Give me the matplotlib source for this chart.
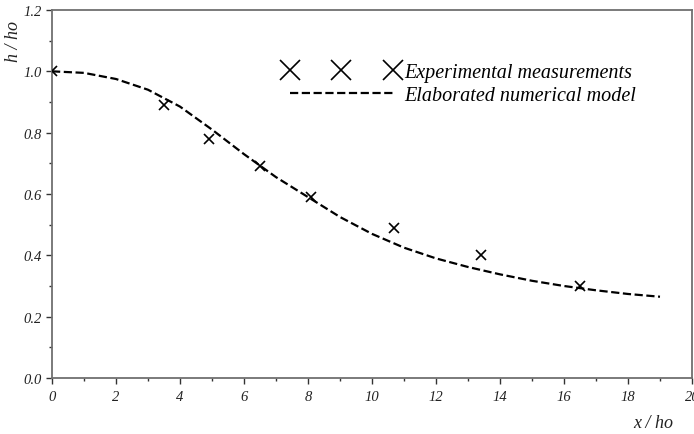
import matplotlib
matplotlib.use("Agg")
import matplotlib.pyplot as plt
from matplotlib.ticker import MultipleLocator, FormatStrFormatter

# Data
exp_x = [0.0, 3.5, 4.9, 6.5, 8.1, 10.7, 13.4, 16.5]
exp_y = [1.0, 0.89, 0.78, 0.69, 0.59, 0.49, 0.40, 0.30]

model_x = [0, 1, 2, 3, 4, 5, 6, 7, 8, 9, 10, 11, 12, 13, 14, 15, 16, 17, 18, 19]
model_y = [1.0, 0.995, 0.975, 0.94, 0.885, 0.81, 0.73, 0.655, 0.59, 0.525,
           0.47, 0.425, 0.39, 0.362, 0.338, 0.317, 0.30, 0.286, 0.274, 0.265]

labels = ["Experimental measurements", "Elaborated numerical model"]

serif = "Liberation Serif"
plt.rcParams["font.family"] = [serif, "DejaVu Serif"]
plt.rcParams["font.style"] = "italic"

W, H = 694, 435
fig = plt.figure(figsize=(W / 100, H / 100), dpi=100)
ax = fig.add_axes([52 / W, (H - 379) / H, (692 - 52) / W, (379 - 11) / H])

ax.plot(exp_x, exp_y, linestyle="none", marker="x", color="black",
        markersize=6.5, markeredgewidth=1.2, label=labels[0], zorder=3)
ax.plot(model_x, model_y, linestyle=(0, (3.7, 1.6)), color="black",
        linewidth=1.6, label=labels[1], zorder=2)

ax.set_xlim(0, 20)
ax.set_ylim(0, 1.2)
ax.xaxis.set_major_locator(MultipleLocator(2))
ax.xaxis.set_minor_locator(MultipleLocator(1))
ax.yaxis.set_major_locator(MultipleLocator(0.2))
ax.yaxis.set_minor_locator(MultipleLocator(0.1))
ax.yaxis.set_major_formatter(FormatStrFormatter("%.1f"))

for sp in ax.spines.values():
    sp.set_color("#707070")
    sp.set_linewidth(1.3)

ax.tick_params(which="major", direction="out", length=4, width=1.0,
               color="#333333", pad=3, labelsize=10.5, labelcolor="#222222")
ax.tick_params(which="minor", direction="out", length=2.5, width=1.0,
               color="#333333")
ax.tick_params(axis="x", which="major", pad=5)

fig.text(13 / W, 1 - 42 / H, "h / ho", rotation=90, ha="center", va="center",
         fontsize=13, color="#222222")
fig.text(653 / W, 1 - 424 / H, "x / ho", ha="center", va="center",
         fontsize=13, color="#222222")

leg = ax.legend(loc="upper left", bbox_to_anchor=(270 / W, 1 - 50 / H),
                bbox_transform=fig.transFigure, frameon=False, numpoints=3,
                markerscale=2.3, handlelength=5.7, handletextpad=0.25,
                labelspacing=0.2, borderpad=0.2,
                prop={"family": serif, "style": "italic", "size": 14.5})

fig.savefig("out.png", dpi=100)
